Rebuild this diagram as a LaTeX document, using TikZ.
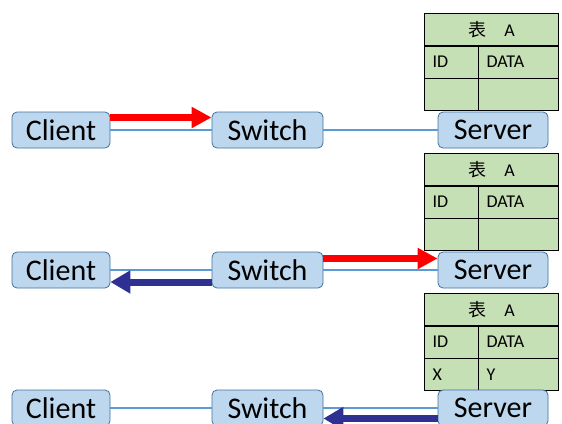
\documentclass[tikz,border=0pt]{standalone}
\usepackage{fontspec}
\setmainfont{Carlito}
\newfontfamily\cjk{Noto Sans CJK SC}
\usetikzlibrary{arrows.meta}
\definecolor{boxfill}{HTML}{BDD7EE}
\definecolor{boxline}{HTML}{41719C}
\definecolor{wirecol}{HTML}{5B9BD5}
\definecolor{tblfill}{HTML}{C5E0B4}
\definecolor{navy}{HTML}{2E3192}
\begin{document}
\begin{tikzpicture}[x=1pt,y=-1pt,
  dev/.style={draw=boxline, line width=0.8pt, fill=boxfill, rounded corners=5pt,
    minimum height=36pt, inner sep=0pt, font=\fontsize{30}{30}\selectfont},
  cli/.style={dev, minimum width=98pt},
  swi/.style={dev, minimum width=111pt},
  srv/.style={dev, minimum width=110pt},
  cell/.style={draw=black, line width=1.2pt, fill=tblfill, minimum height=32.3pt,
    inner ysep=0pt, inner xsep=8pt, anchor=north west, align=left,
    font=\fontsize{18}{18}\selectfont},
  cola/.style={cell, text width=38pt},
  colb/.style={cell, text width=64pt},
  hdr/.style={cell, text width=118pt, align=center},
  wire/.style={draw=wirecol, line width=2.6pt},
  redarrow/.style={draw=red, line width=6.5pt, -{Triangle[length=20pt,width=20pt]}},
  navyarrow/.style={draw=navy, line width=7pt, -{Triangle[length=20pt,width=22pt]}}]
\path[use as bounding box] (0,0) rectangle (562,423);
\clip (0,0) rectangle (562,423);

% tables
\foreach \r/\t in {1/13,2/153,3/293}{
  \node[hdr] (t\r h) at (424,\t) {{\cjk 表　}A};
  \node[cola] (t\r a) at (424,\t+32.3) {ID};
  \node[colb] (t\r b) at (478,\t+32.3) {DATA};
}
\node[cola] (t1c) at (424,77.6) {};
\node[colb] (t1d) at (478,77.6) {};
\node[cola] (t2c) at (424,217.6) {};
\node[colb] (t2d) at (478,217.6) {};
\node[cola] (t3c) at (424,357.6) {X};
\node[colb] (t3d) at (478,357.6) {Y};

% row 1
\node[cli] (c1) at (61,130) {Client};
\node[swi] (s1) at (267.5,130) {Switch};
\node[srv] (v1) at (493,130) {Server};
% row 2
\node[cli] (c2) at (61,270) {Client};
\node[swi] (s2) at (267.5,270) {Switch};
\node[srv] (v2) at (493,270) {Server};
% row 3
\node[cli] (c3) at (61,408) {Client};
\node[swi] (s3) at (267.5,408) {Switch};
\node[srv] (v3) at (493,408) {Server};

% wires
\foreach \r in {1,2,3}{
  \draw[wire] (c\r.east) -- (s\r.west);
  \draw[wire] (s\r.east) -- (v\r.west);
}

% arrows
\draw[redarrow] ([yshift=12.5pt]c1.east) -- ([yshift=12.5pt]s1.west);
\draw[redarrow] ([yshift=11.5pt]s2.east) -- ([yshift=11.5pt]v2.west);
\draw[navyarrow] ([yshift=-12pt]s2.west) -- ([yshift=-12pt]c2.east);
\draw[navyarrow] ([yshift=-10.5pt]v3.west) -- ([yshift=-10.5pt]s3.east);
\end{tikzpicture}
\end{document}
